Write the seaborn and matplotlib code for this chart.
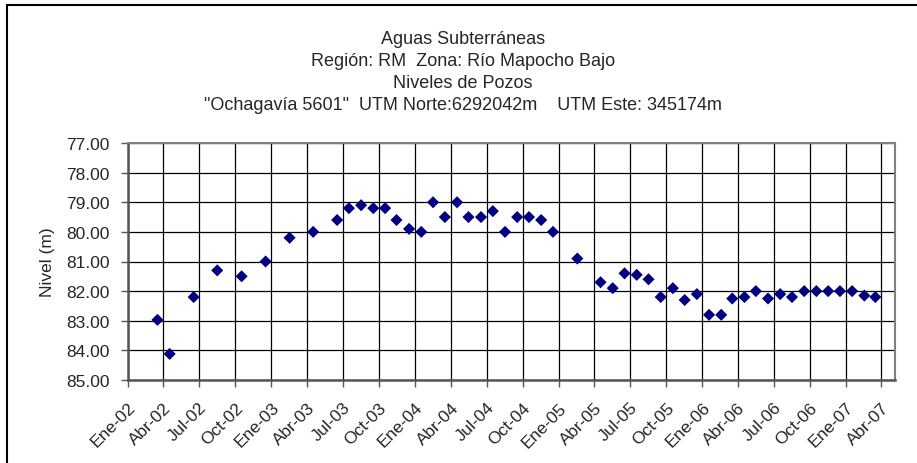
import matplotlib
matplotlib.use("Agg")
import matplotlib.pyplot as plt
from matplotlib.lines import Line2D
import pandas as pd
import seaborn as sns

# Measurement dates and static water level (m) at the well
fechas = [
    "2002-03-17", "2002-04-17", "2002-06-17", "2002-08-16", "2002-10-17", "2002-12-17",
    "2003-02-16", "2003-04-17", "2003-06-17", "2003-07-17", "2003-08-17", "2003-09-17",
    "2003-10-17", "2003-11-15", "2003-12-17", "2004-01-17", "2004-02-16", "2004-03-17",
    "2004-04-17", "2004-05-16", "2004-06-17", "2004-07-17", "2004-08-17", "2004-09-17",
    "2004-10-17", "2004-11-17", "2004-12-17", "2005-02-17", "2005-04-17", "2005-05-18",
    "2005-06-17", "2005-07-18", "2005-08-17", "2005-09-17", "2005-10-18", "2005-11-17",
    "2005-12-18", "2006-01-18", "2006-02-18", "2006-03-18", "2006-04-18", "2006-05-17",
    "2006-06-17", "2006-07-18", "2006-08-17", "2006-09-17", "2006-10-18", "2006-11-17",
    "2006-12-17", "2007-01-17", "2007-02-17", "2007-03-17",
]
niveles = [
    82.97, 84.12, 82.20, 81.30, 81.50, 81.00,
    80.20, 80.00, 79.60, 79.20, 79.10, 79.20,
    79.20, 79.60, 79.90, 80.00, 79.00, 79.50,
    79.00, 79.50, 79.50, 79.30, 80.00, 79.50,
    79.50, 79.60, 80.00, 80.90, 81.70, 81.90,
    81.40, 81.45, 81.60, 82.20, 81.90, 82.30,
    82.10, 82.80, 82.80, 82.25, 82.20, 82.00,
    82.25, 82.10, 82.20, 82.00, 82.00, 82.00,
    82.00, 82.00, 82.15, 82.20,
]

# Quarterly tick positions and their labels
tick_fechas = [
    "2002-01-01", "2002-04-01", "2002-07-01", "2002-10-01",
    "2003-01-01", "2003-04-01", "2003-07-01", "2003-10-01",
    "2004-01-01", "2004-04-01", "2004-07-01", "2004-10-01",
    "2005-01-01", "2005-04-01", "2005-07-01", "2005-10-01",
    "2006-01-01", "2006-04-01", "2006-07-01", "2006-10-01",
    "2007-01-01", "2007-04-01",
]
tick_labels = [
    "Ene-02", "Abr-02", "Jul-02", "Oct-02",
    "Ene-03", "Abr-03", "Jul-03", "Oct-03",
    "Ene-04", "Abr-04", "Jul-04", "Oct-04",
    "Ene-05", "Abr-05", "Jul-05", "Oct-05",
    "Ene-06", "Abr-06", "Jul-06", "Oct-06",
    "Ene-07", "Abr-07",
]
y_ticks = [77, 78, 79, 80, 81, 82, 83, 84, 85]

titulo = [
    "Aguas Subterráneas",
    "Región: RM  Zona: Río Mapocho Bajo",
    "Niveles de Pozos",
    "\"Ochagavía 5601\"  UTM Norte:6292042m    UTM Este: 345174m",
]

sns.set_style("white")
plt.rcParams["font.family"] = ["Liberation Sans", "DejaVu Sans"]

df = pd.DataFrame({"fecha": pd.to_datetime(fechas), "nivel": niveles})

fig = plt.figure(figsize=(9.17, 4.64), dpi=100)
ax = fig.add_axes([128 / 917, 1 - 381 / 464, (895 - 128) / 917, (381 - 144) / 464])

sns.scatterplot(data=df, x="fecha", y="nivel", marker="D", s=38,
                color="#000080", edgecolor="none", ax=ax, zorder=3)

ax.set_xlim(pd.Timestamp("2002-01-01"), pd.Timestamp("2007-05-06"))
ax.set_ylim(85, 77)

ax.set_xticks(pd.to_datetime(tick_fechas))
ax.set_xticklabels(tick_labels, rotation=45, ha="right", va="top",
                   rotation_mode="anchor", fontsize=12.5)
ax.set_yticks(y_ticks)
ax.set_yticklabels([f"{v:.2f}" for v in y_ticks], fontsize=12.5)

ax.grid(True, color="#000000", linewidth=0.9)
ax.set_axisbelow(True)
ax.tick_params(axis="both", direction="out", length=5, width=1,
               color="#555555", left=True, bottom=True)
ax.tick_params(axis="y", pad=8)
ax.tick_params(axis="x", pad=9)

for side in ["left", "bottom"]:
    ax.spines[side].set_color("#555555")
    ax.spines[side].set_linewidth(1.8)
for side in ["top", "right"]:
    ax.spines[side].set_color("#808080")
    ax.spines[side].set_linewidth(1.5)

ax.set_xlabel("")
ax.set_ylabel("Nivel (m)", fontsize=12.5, labelpad=8)

# Chart titles
for i, linea in enumerate(titulo):
    fig.text(463 / 917, 1 - (40 + 22 * i) / 464, linea, ha="center",
             va="center", fontsize=13)

# Chart-area frame (top and left edges)
fig.add_artist(Line2D([7 / 917, 1.0], [1 - 6 / 464, 1 - 6 / 464],
                      transform=fig.transFigure, color="black", lw=1.5))
fig.add_artist(Line2D([7 / 917, 7 / 917], [0.0, 1 - 6 / 464],
                      transform=fig.transFigure, color="black", lw=1.5))

fig.savefig("out.png", dpi=100)
